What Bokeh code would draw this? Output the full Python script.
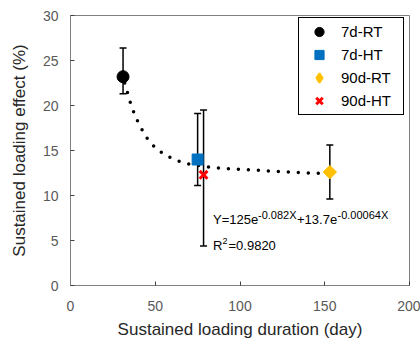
import math
from bokeh.plotting import figure
from bokeh.models import ColumnDataSource, Whisker, TeeHead, Legend, LegendItem, FixedTicker
from bokeh.core.properties import value
from bokeh.embed import file_html
from bokeh.resources import INLINE

# ---- data ----
series_names = ["7d-RT", "7d-HT", "90d-RT", "90d-HT"]
duration = [31, 75, 153, 78.5]
effect = [23.2, 14.0, 12.6, 12.3]
err_upper = [26.4, 19.1, 15.6, 19.5]
err_lower = [21.3, 11.1, 9.6, 4.4]

curve_x = [32, 35, 38, 41, 45, 50, 55, 60, 65, 70, 80, 90, 100, 110, 120, 130, 140, 150]
curve_y = [22.5, 20.5, 18.9, 17.7, 16.4, 15.3, 14.6, 14.1, 13.75, 13.5, 13.2, 13.0, 12.9, 12.8, 12.7, 12.6, 12.5, 12.45]

x_ticks = [0, 50, 100, 150, 200]
y_ticks = [0, 5, 10, 15, 20, 25, 30]

FONT = "Liberation Sans"

p = figure(width=420, height=345, output_backend="svg", toolbar_location=None,
           x_range=(0, 200), y_range=(0, 30),
           min_border_left=70, min_border_right=11, min_border_top=15, min_border_bottom=60)
p.grid.visible = False
p.outline_line_color = "#808080"
p.outline_line_width = 1
p.background_fill_color = "white"
p.border_fill_color = "white"

for ax, ticks in ((p.xaxis[0], x_ticks), (p.yaxis[0], y_ticks)):
    ax.ticker = FixedTicker(ticks=ticks)
    ax.minor_tick_line_color = None
    ax.major_tick_in = 4
    ax.major_tick_out = 0
    ax.major_tick_line_color = "#404040"
    ax.axis_line_color = "#808080"
    ax.major_label_text_font = FONT
    ax.major_label_text_font_size = "14px"
    ax.major_label_text_color = "#595959"
    ax.axis_label_text_font = FONT
    ax.axis_label_text_font_size = "17px"
    ax.axis_label_text_font_style = "normal"
    ax.axis_label_text_color = "#262626"

p.xaxis.axis_label = "Sustained loading duration (day)"
p.yaxis.axis_label = "Sustained loading effect (%)"
p.xaxis.major_label_standoff = 15
p.xaxis.axis_label_standoff = 6
p.yaxis.major_label_standoff = 12
p.yaxis.axis_label_standoff = 11

# fitted curve (dotted)
p.line(curve_x, curve_y, line_color="black", line_width=3.5, line_dash="0 10", line_cap="round")

# error bars
src = ColumnDataSource(dict(x=duration, y=effect, upper=err_upper, lower=err_lower))
wh = Whisker(source=src, base="x", upper="upper", lower="lower", dimension="height",
             line_color="black", line_width=1.5, level="underlay",
             upper_head=TeeHead(size=7, line_width=1.5, line_color="black"),
             lower_head=TeeHead(size=7, line_width=1.5, line_color="black"))
p.add_layout(wh)

styles = [
    dict(marker="circle", size=12, fill_color="black", line_color="black", angle=0, line_width=1),
    dict(marker="square", size=11, fill_color="#0070C0", line_color="#0070C0", angle=0, line_width=1),
    dict(marker="square", size=9.5, fill_color="#FFC000", line_color="#FFC000", angle=math.pi / 4, line_width=1),
    dict(marker="x", size=11, fill_color="#FF0000", line_color="#FF0000", angle=0, line_width=3),
]
# legend glyph styles (legend does not rotate markers)
legend_styles = [
    None,
    None,
    dict(marker="diamond", size=17, fill_color="#FFC000", line_color="#FFC000", line_width=2),
    dict(marker="x", size=13, fill_color="#FF0000", line_color="#FF0000", line_width=3),
]
items = []
for i, name in enumerate(series_names):
    r = p.scatter([duration[i]], [effect[i]], **styles[i])
    if legend_styles[i] is not None:
        r = p.scatter([float("nan")], [float("nan")], **legend_styles[i])
    items.append(LegendItem(label=name, renderers=[r]))

legend = Legend(items=items, location=(228, 170), label_text_font=FONT,
                label_text_font_size="15px", label_text_color="#000000",
                border_line_color="black", border_line_width=1.3, border_line_alpha=1,
                padding=2, spacing=0, glyph_height=23, label_height=23,
                glyph_width=36, label_standoff=4, label_width=60, margin=0,
                background_fill_alpha=1)
p.add_layout(legend, "center")

# equation annotation
def px2x(px):
    return (px - 70.5) / 1.695

def px2y(py):
    return (285 - py) / 9.0

pieces = [
    ("Y=125e", 213, 219, "13px"),
    ("-0.082X", 258, 214, "11px"),
    ("+13.7e", 297, 219, "13px"),
    ("-0.00064X", 337.5, 214, "11px"),
    ("R", 213, 245, "13px"),
    ("2", 222.5, 240, "9px"),
    ("=0.9820", 228.5, 245, "13px"),
]
for txt, xpx, ypx, fs in pieces:
    p.text(x=[px2x(xpx)], y=[px2y(ypx)], text=[txt], text_font=value(FONT),
           text_font_size=value(fs), text_color="#000000",
           text_baseline="alphabetic", text_align="left")

open("out.html", "w").write(file_html(p, INLINE))
